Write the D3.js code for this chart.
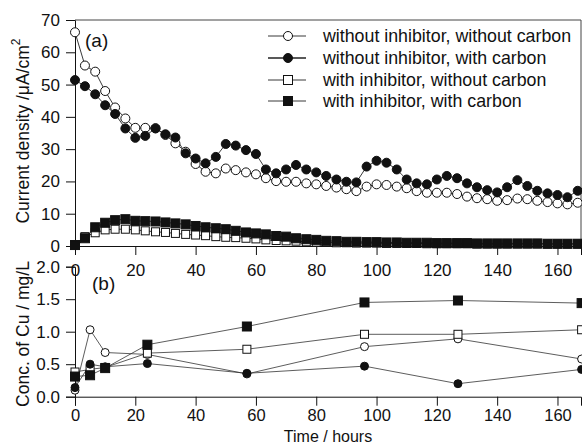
<!DOCTYPE html>
<html>
<head>
<meta charset="utf-8">
<script src="https://cdn.jsdelivr.net/npm/d3@7"></script>
<style>
html,body{margin:0;padding:0;background:#fff;}
svg{display:block;font-family:"Liberation Sans",Arial,sans-serif;}
</style>
</head>
<body>
<svg id="chart" width="582" height="444"></svg>
<script>
// ---------- DATA ----------
const hoursA = [0,3.3,6.7,10,13.3,16.7,20,23.3,26.7,30,33.3,36.7,40,43.3,46.7,50,53.3,56.7,60,63.3,66.7,70,73.3,76.7,80,83.3,86.7,90,93.3,96.7,100,103.3,106.7,110,113.3,116.7,120,123.3,126.7,130,133.3,136.7,140,143.3,146.7,150,153.3,156.7,160,163.3,166.7];
const woInhWoCarbonA = [66.2,55.9,54,48,42.9,39.5,36.6,36.6,36.5,34.4,31.8,29.2,25.4,23,22.5,24,23.5,22.8,22.2,21,20.1,19.9,19.9,19.4,19.1,18.6,18.1,17.6,17,18.4,19.1,18.9,18.4,17.9,17,16.5,16.5,16.5,16.1,15.3,14.8,14.5,14,14.2,14.7,14.5,14,13.6,13.2,12.9,13.4];
const woInhWCarbonA = [51.4,49.5,47,43.6,40.9,36.4,33.5,34.1,36.4,34.6,33.6,28.7,27.1,25.6,27.6,31.6,31.1,29.7,28.5,23.7,22.5,23.7,25.1,23.7,22.8,21.7,20.6,19.9,19.7,24.6,26.4,25.8,23.7,20.6,19.4,19.1,20.6,21.7,21,19.4,18.2,17.3,16.6,18.2,20.4,18.6,17.1,16.3,15.8,15.1,17.1];
const wInhWoCarbonA = [0.3,2.9,4.1,5,5.2,5.2,5,4.7,4.4,4.2,3.9,3.6,3.4,3.2,2.9,2.7,2.6,2.4,2.2,1.9,1.7,1.6,1.5,1.3,1.2,1.1,1.0,1.0,0.9,0.9,0.9,0.8,0.8,0.8,0.8,0.7,0.7,0.7,0.7,0.7,0.6,0.6,0.6,0.6,0.6,0.6,0.6,0.6,0.6,0.6,0.6];
const wInhWCarbonA = [0.3,2.4,5.8,7.2,8,8.3,7.8,7.7,7.6,7.3,7,6.7,6.2,5.8,5.5,5.2,4.7,4.2,3.9,3.6,3.1,2.9,2.4,2.1,1.9,1.6,1.5,1.3,1.3,1.2,1.2,1.1,1.1,1.0,1.0,1.0,0.9,0.9,0.9,0.9,0.8,0.8,0.8,0.8,0.8,0.8,0.8,0.7,0.7,0.7,0.7];

const hoursB = [0,5,10,24,57,96,127,168];
const woInhWoCarbonB = [0.1,1.03,0.68,0.65,0.35,0.77,0.89,0.58];
const woInhWCarbonB = [0.14,0.5,0.46,0.51,0.36,0.47,0.2,0.42];
const wInhWoCarbonB = [0.38,0.42,0.45,0.67,0.73,0.96,0.96,1.03];
const wInhWCarbonB = [0.31,0.33,0.44,0.8,1.08,1.45,1.48,1.44];

const seriesNames = ["without inhibitor, without carbon","without inhibitor, with carbon","with inhibitor, without carbon","with inhibitor, with carbon"];
const xTicks = [0,20,40,60,80,100,120,140,160];
const yTicksA = [0,10,20,30,40,50,60,70];
const yTicksB = [0,0.5,1.0,1.5,2.0];

// ---------- SCALES ----------
const svg = d3.select("#chart");
const x = d3.scaleLinear().domain([0,167.8]).range([75,581]);
const yA = d3.scaleLinear().domain([0,70]).range([246,20]);
const yB = d3.scaleLinear().domain([0,2]).range([396.7,266.7]);

const styles = [
  {shape:"circle", fill:"#fff"},
  {shape:"circle", fill:"#111"},
  {shape:"square", fill:"#fff"},
  {shape:"square", fill:"#111"}
];

function marker(g, st, cx, cy, s){
  if(st.shape==="circle"){
    g.append("circle").attr("cx",cx).attr("cy",cy).attr("r",s/2)
      .attr("fill",st.fill).attr("stroke","#111").attr("stroke-width",1);
  } else {
    g.append("rect").attr("x",cx-s/2).attr("y",cy-s/2).attr("width",s).attr("height",s)
      .attr("fill",st.fill).attr("stroke","#111").attr("stroke-width",1);
  }
}

// ---------- PANEL A ----------
const gA = svg.append("g");
const axA = d3.axisLeft(yA).tickValues(yTicksA).tickSize(9).tickPadding(6).tickFormat(d3.format("d"));
gA.append("g").attr("transform","translate(75,0)").call(axA);
const axAx = d3.axisBottom(x).tickValues(xTicks).tickSize(9).tickPadding(9).tickFormat(d3.format("d"));
gA.append("g").attr("transform","translate(0,246)").call(axAx);
gA.append("line").attr("x1",75).attr("x2",581).attr("y1",20).attr("y2",20).attr("stroke","#444");
gA.append("line").attr("x1",581).attr("x2",581).attr("y1",20).attr("y2",246).attr("stroke","#444");

const dataA = [woInhWoCarbonA, woInhWCarbonA, wInhWoCarbonA, wInhWCarbonA];
const lineA = d3.line().x(d=>x(d[0])).y(d=>yA(d[1]));
dataA.forEach((vals,i)=>{
  const pts = hoursA.map((h,j)=>[h,vals[j]]);
  gA.append("path").attr("d",lineA(pts)).attr("fill","none").attr("stroke","#222").attr("stroke-width",0.9);
});
dataA.forEach((vals,i)=>{
  const g = gA.append("g");
  hoursA.forEach((h,j)=>marker(g, styles[i], x(h), yA(vals[j]), styles[i].shape==="circle"?9:(i===3?9:8)));
});

// ---------- PANEL B ----------
const gB = svg.append("g");
const axB = d3.axisLeft(yB).tickValues(yTicksB).tickSize(9).tickPadding(6).tickFormat(d3.format(".1f"));
gB.append("g").attr("transform","translate(75,0)").call(axB);
const axBx = d3.axisBottom(x).tickValues(xTicks).tickSize(9).tickPadding(4).tickFormat(d3.format("d"));
const gBx = gB.append("g").attr("class","bx").attr("transform","translate(0,396.7)").call(axBx);

const dataB = [woInhWoCarbonB, woInhWCarbonB, wInhWoCarbonB, wInhWCarbonB];
const lineB = d3.line().x(d=>x(d[0])).y(d=>yB(d[1]));
dataB.forEach((vals,i)=>{
  const pts = hoursB.map((h,j)=>[h,vals[j]]);
  gB.append("path").attr("d",lineB(pts)).attr("fill","none").attr("stroke","#333").attr("stroke-width",0.8);
});
[0,2,1,3].forEach(i=>{
  const g = gB.append("g");
  hoursB.forEach((h,j)=>marker(g, styles[i], x(h), yB(dataB[i][j]), styles[i].shape==="circle"?8:(i===3?9:8)));
});

// axis styling
svg.selectAll(".domain").attr("stroke","#111").attr("stroke-width",1);
svg.selectAll(".tick line").attr("stroke","#111");
svg.selectAll(".tick text").attr("font-size",17).attr("fill","#111").attr("font-family","Liberation Sans, Arial, sans-serif");
gBx.selectAll(".tick text").attr("font-size",16.5);

// ---------- TEXT ----------
svg.append("text").attr("x",85).attr("y",47).attr("font-size",19).attr("fill","#111").text("(a)");
svg.append("text").attr("x",92).attr("y",290).attr("font-size",19).attr("fill","#111").text("(b)");

const yl = svg.append("text").attr("transform","translate(29,131) rotate(-90)")
  .attr("text-anchor","middle").attr("font-size",17.5).attr("fill","#111");
yl.append("tspan").text("Current density /\u03BCA/cm");
yl.append("tspan").attr("dy",-9).attr("font-size",12).text("2");

svg.append("text").attr("transform","translate(29,334) rotate(-90)")
  .attr("text-anchor","middle").attr("font-size",17.5).attr("fill","#111").text("Conc. of Cu / mg/L");

svg.append("text").attr("x",328).attr("y",441.5).attr("text-anchor","middle").attr("font-size",16).attr("fill","#111").text("Time / hours");

// ---------- LEGEND ----------
const legY = [36,58,80,101];
seriesNames.forEach((name,i)=>{
  const g = svg.append("g");
  g.append("line").attr("x1",268).attr("x2",306).attr("y1",legY[i]).attr("y2",legY[i]).attr("stroke","#222").attr("stroke-width",i===1?1.4:0.9);
  marker(g, styles[i], 288, legY[i], 9);
  g.append("text").attr("x",323).attr("y",legY[i]+6).attr("font-size",17.8).attr("fill","#111").text(name);
});
</script>
</body>
</html>
